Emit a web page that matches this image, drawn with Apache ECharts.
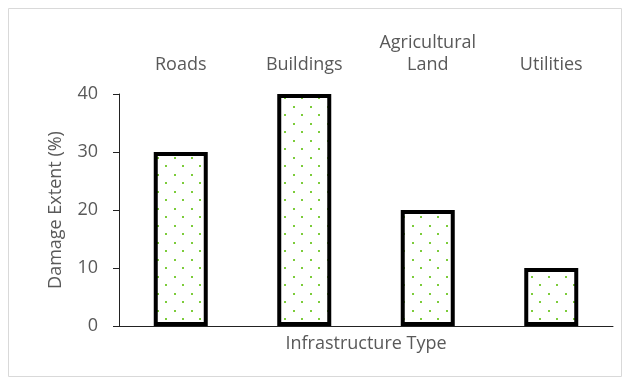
<!DOCTYPE html>
<html><head><meta charset="utf-8">
<script src="https://cdn.jsdelivr.net/npm/echarts@6/dist/echarts.min.js"></script>
<style>html,body{margin:0;padding:0;background:#fff}#c{width:630px;height:385px}</style>
</head><body><div id="c"></div>
<script>
const categories = ['Roads', 'Buildings', 'Agricultural\nLand', 'Utilities'];
const damageValues = [30, 40, 20, 10];
const yTicks = [0, 10, 20, 30, 40];

const pc = document.createElement('canvas');
pc.width = 17; pc.height = 17;
const g = pc.getContext('2d');
g.fillStyle = '#fff'; g.fillRect(0, 0, 17, 17);
g.fillStyle = '#7ccc3a';
g.fillRect(4, 4, 2, 2);
g.fillRect(12, 12, 2, 2);

const chart = echarts.init(document.getElementById('c'));
const font = 'Open Sans';
chart.setOption({
  animation: false,
  textStyle: { fontFamily: font },
  graphic: [{ type: 'rect', shape: { x: 8.5, y: 8.5, width: 613, height: 368 }, style: { fill: 'none', stroke: '#d9d9d9', lineWidth: 1 } }],
  grid: { left: 119, right: 17, top: 94, bottom: 59 },
  xAxis: [
    { type: 'category', data: categories, position: 'bottom',
      axisLine: { lineStyle: { color: '#222', width: 1 } }, axisTick: { show: false }, axisLabel: { show: false },
      name: 'Infrastructure Type', nameLocation: 'middle', nameGap: 9,
      nameTextStyle: { color: '#595959', fontSize: 18, fontFamily: font } },
    { type: 'category', data: categories, position: 'top',
      axisLine: { show: false }, axisTick: { show: false },
      axisLabel: { color: '#595959', fontSize: 18, fontFamily: font, margin: 18, lineHeight: 22, interval: 0 } }
  ],
  yAxis: {
    type: 'value', min: yTicks[0], max: yTicks[yTicks.length - 1], interval: 10,
    axisLine: { show: true, lineStyle: { color: '#222', width: 1 } },
    axisTick: { show: true, length: 6, lineStyle: { color: '#222' } },
    splitLine: { show: false },
    axisLabel: { color: '#595959', fontSize: 18, fontFamily: font, margin: 21 },
    name: 'Damage Extent (%)', nameLocation: 'middle', nameGap: 54,
    nameTextStyle: { color: '#595959', fontSize: 18, fontFamily: font }
  },
  series: [{
    type: 'bar', data: damageValues, barWidth: 54, xAxisIndex: 0,
    itemStyle: { color: { image: pc, repeat: 'repeat' }, borderColor: '#000', borderWidth: 4 }
  }]
});
</script></body></html>
